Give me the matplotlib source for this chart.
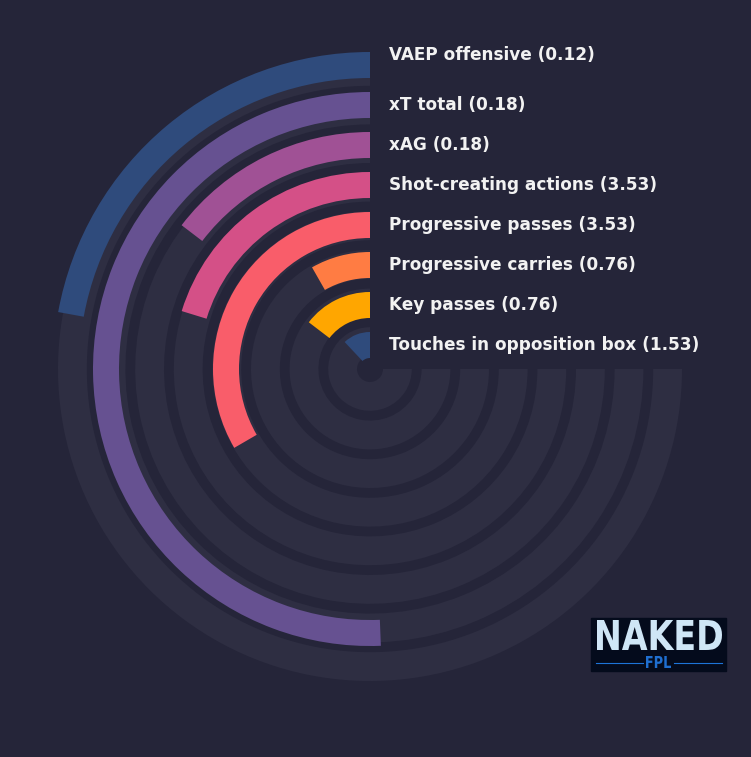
import numpy as np
import matplotlib.pyplot as plt
from matplotlib.patches import Rectangle, PathPatch
from matplotlib.lines import Line2D
from matplotlib.textpath import TextPath
from matplotlib.font_manager import FontProperties
from matplotlib.transforms import Affine2D

# metrics from the inside ring to the outside ring
metrics = ["Touches in opposition box", "Key passes", "Progressive carries",
           "Progressive passes", "Shot-creating actions", "xAG", "xT total",
           "VAEP offensive"]
values = [1.53, 0.76, 0.76, 3.53, 3.53, 0.18, 0.18, 0.12]
# percentile rank (share of the 270 degree track)
percentiles = [16, 19.5, 11, 44.5, 27, 19.5, 67.5, 29.5]

palette = ["#2f4b7c", "#665191", "#a05195", "#d45087", "#f95d6a", "#ff7c43", "#ffa600"]

BG = "#252539"
TRACK = "#2e2e42"
W, H = 751, 757


def px(x, y):
    # pixel position -> figure fraction
    return x / W, 1 - y / H


def boxed_text(fig, s, x0, y0, x1, y1, color):
    # draw text stretched into a pixel box (x0, y0 top-left, x1, y1 bottom-right)
    tp = TextPath((0, 0), s, size=1, prop=FontProperties(family="DejaVu Sans", weight="bold"))
    ext = tp.get_extents()
    sx = (x1 - x0) / ext.width
    sy = (y1 - y0) / ext.height
    tr = (Affine2D().translate(-ext.x0, -ext.y0).scale(sx / W, sy / H)
          .translate(x0 / W, 1 - y1 / H) + fig.transFigure)
    fig.patches.append(PathPatch(tp, transform=tr, color=color, lw=0, zorder=6))


fig = plt.figure(figsize=(W / 100, H / 100), dpi=100)
fig.patch.set_facecolor(BG)

# polar axes centred on (370, 369), radius 320 px -> 8 ring units
cx, cy = px(370, 369)
rx, ry = 320 / W, 320 / H
ax = fig.add_axes([cx - rx, cy - ry, 2 * rx, 2 * ry], projection="polar")
ax.set_theta_zero_location("N")
ax.set_theta_direction(1)
ax.set_ylim(0, 8)
ax.axis("off")

full = 1.5 * np.pi
n = len(metrics)
for i in range(n):
    # background track
    ax.bar(0, 0.72, width=full, bottom=0.325 + 0.965 * i, align="edge",
           color=TRACK, linewidth=0)
for i, (m, v, p) in enumerate(zip(metrics, values, percentiles)):
    col = palette[(n - 1 - i) % len(palette)]
    ax.bar(0, 0.65, width=p / 100 * full, bottom=0.275 + i, align="edge",
           color=col, linewidth=0, zorder=3)
    dy = 7 if i == n - 1 else 0
    ax.annotate(f"{m} ({v:.2f})", xy=(0, 0.6 + i), xytext=(13.7, dy),
                textcoords="offset points", ha="left", va="center",
                color="#f2f2f2", fontweight="bold", fontsize=12.2,
                annotation_clip=False)

# logo
x0, y0 = px(591, 671)
fig.patches.append(Rectangle((x0, y0), 135 / W, 53 / H, transform=fig.transFigure,
                             color="#040b1c", zorder=5))
boxed_text(fig, "NAKED", 597, 620, 722, 650, "#cfe6f6")
boxed_text(fig, "FPL", 646, 656, 671, 668, "#1f6fd0")
for a, b in [(596, 643), (674, 722)]:
    xa, yl = px(a, 663)
    xb, _ = px(b, 663)
    fig.lines.append(Line2D([xa, xb], [yl, yl], transform=fig.transFigure,
                            color="#1d74d8", linewidth=0.8, zorder=6))

fig.savefig("out.png", dpi=100, facecolor=BG)
